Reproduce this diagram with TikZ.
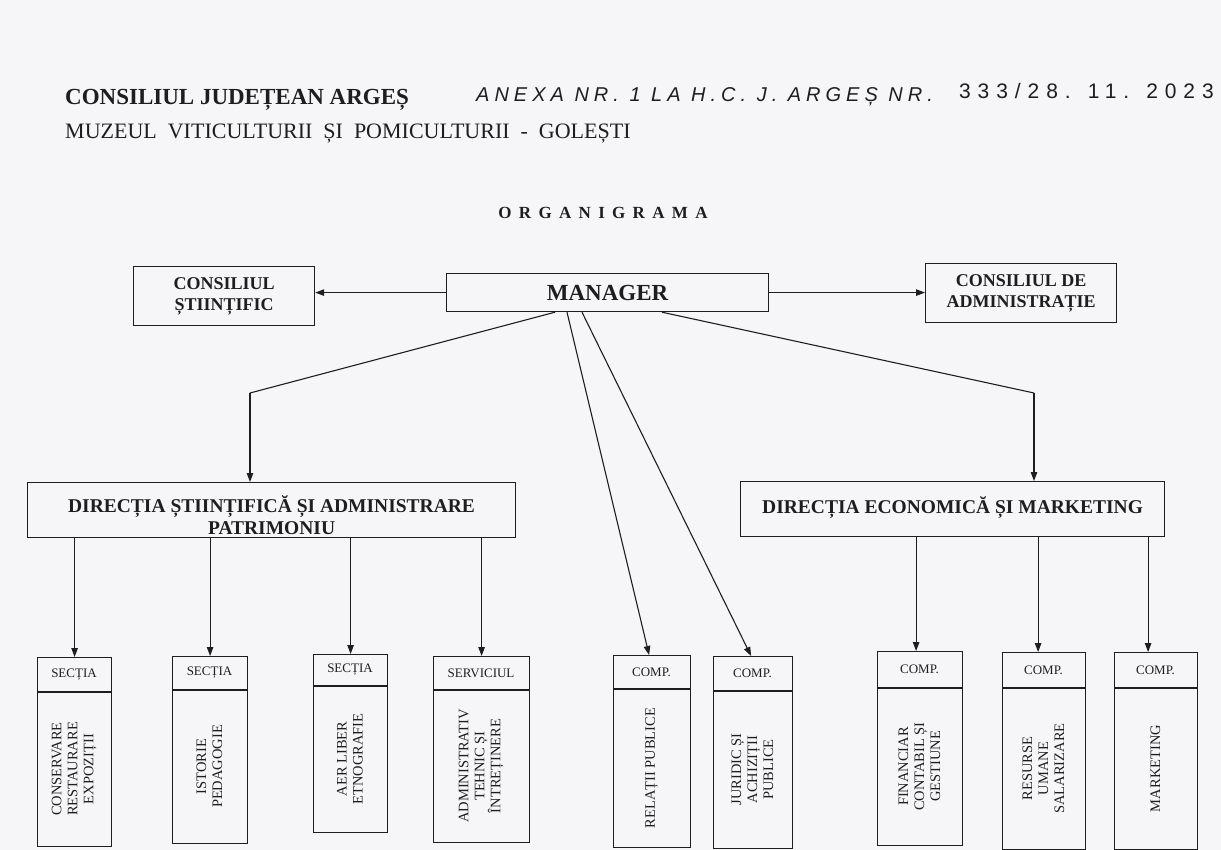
\documentclass[tikz,border=0pt]{standalone}
\usepackage{fontspec}
\setmainfont{Liberation Serif}
\newfontfamily\hand{Liberation Sans}
\usetikzlibrary{arrows.meta,calc}
\definecolor{ink}{RGB}{30,30,32}
\definecolor{paper}{RGB}{246,246,248}
\newcommand{\ubox}[8]{%
  \node[box, anchor=north west, minimum width={(#3-#2)*1pt}, minimum height={(#6-#4)*1pt}] (#1) at (#2,#4) {};
  \coordinate (#1d) at (#2,#5);
  \draw[ln] (#1d) -- (#1d -| #1.east);
  \node[hdr] (#1h) at ({(#2+#3)/2},{(#4+#5)/2}) {#7};
  \node[body] (#1t) at ({(#2+#3)/2},{(#5+#6)/2}) {#8};
}
\tikzset{
  box/.style={draw=ink, line width=1.2pt, inner sep=0pt},
  arr/.style={draw=ink, line width=1.1pt, -{Triangle[length=9pt,width=6.5pt]}},
  ln/.style={draw=ink, line width=1.1pt},
  hdr/.style={font=\fontsize{13}{15}\selectfont, text=ink, inner sep=0pt},
  body/.style={font=\fontsize{14.5}{16}\selectfont, text=ink, align=center, inner sep=0pt, rotate=90},
  topbox/.style={box, align=center, text=ink, font=\bfseries\fontsize{18}{21.5}\selectfont},
  divtext/.style={align=center, text=ink, inner sep=0pt, font=\bfseries\fontsize{19.5}{22}\selectfont},
}
\begin{document}
\begin{tikzpicture}[x=1pt,y=-1pt]
\useasboundingbox (0,0) rectangle (1221,850);
\fill[paper] (0,0) rectangle (1221,850);

% header
\node[anchor=base west, inner sep=0pt, text=ink, font=\bfseries\fontsize{23}{26}\selectfont] (cj) at (65,105) {CONSILIUL JUDEȚEAN ARGEȘ};
\node[anchor=base west, inner sep=0pt, text=ink, font=\fontsize{22}{26}\selectfont] (mz) at (65,139) {MUZEUL\ \ VITICULTURII\ \ ȘI\ \ POMICULTURII\ \ -\ \ GOLEȘTI};
\node[anchor=base west, inner sep=0pt, text=ink, font=\hand\itshape\fontsize{20}{23}\selectfont] (ax) at (476,102) {\addfontfeature{LetterSpace=25}ANEXA NR. 1 LA H.C. J. ARGEȘ NR.};
\node[anchor=base east, inner sep=0pt, text=ink, font=\hand\fontsize{21}{24}\selectfont] (num) at (1214,99) {\addfontfeature{LetterSpace=33}333/28. 11. 2023};
\node[anchor=base, inner sep=0pt, text=ink, font=\bfseries\fontsize{17}{20}\selectfont] (org) at (603,219) {\addfontfeature{LetterSpace=18}O R G A N I G R A M A};

% top row
\node[topbox, anchor=north west, minimum width=181pt, minimum height=59pt] (cs) at (133,266) {CONSILIUL\\ȘTIINȚIFIC};
\node[box, anchor=north west, minimum width=322pt, minimum height=38pt, text=ink, font=\bfseries\fontsize{23}{26}\selectfont] (mgr) at (446,273) {MANAGER};
\node[topbox, anchor=north west, minimum width=191pt, minimum height=59pt] (adm) at (925,263) {CONSILIUL DE\\ADMINISTRAȚIE};
\draw[arr] (mgr.west) -- (mgr.west -| cs.east);
\draw[arr] (mgr.east) -- (mgr.east -| adm.west);

% directions
\node[box, anchor=north west, minimum width=488pt, minimum height=55pt] (divL) at (27,482) {};
\node[divtext] (divLt) at ($(divL.center)+(0,5)$) {DIRECȚIA ȘTIINȚIFICĂ ȘI ADMINISTRARE\\PATRIMONIU};
\node[box, anchor=north west, minimum width=424pt, minimum height=55pt] (divR) at (740,481) {};
\node[divtext] (divRt) at ($(divR.center)+(0,-2)$) {DIRECȚIA ECONOMICĂ ȘI MARKETING};

\coordinate (bL) at (250,393);
\coordinate (bR) at (1034,393);
\draw[ln] ($(mgr.south west)+(109,0)$) -- (bL);
\draw[arr] (bL) -- (bL |- divL.north);
\draw[ln] ($(mgr.south west)+(216,0)$) -- (bR);
\draw[arr] (bR) -- (bR |- divR.north);

% units
\ubox{b1}{37}{111}{657}{692}{846}{SECȚIA}{CONSERVARE\\RESTAURARE\\EXPOZIȚII}
\ubox{b2}{172}{247}{656}{690}{843}{SECȚIA}{ISTORIE\\PEDAGOGIE}
\ubox{b3}{313}{387}{654}{686}{832}{SECȚIA}{AER LIBER\\ETNOGRAFIE}
\ubox{b4}{433}{529}{656}{690}{842}{SERVICIUL}{ADMINISTRATIV\\TEHNIC ȘI\\ÎNTREȚINERE}
\ubox{b5}{613}{690}{655}{689}{847}{COMP.}{RELAȚII PUBLICE}
\ubox{b6}{713}{792}{656}{691}{848}{COMP.}{JURIDIC ȘI\\ACHIZIȚII\\PUBLICE}
\ubox{b7}{877}{962}{651}{688}{845}{COMP.}{FINANCIAR\\CONTABIL ȘI\\GESTIUNE}
\ubox{b8}{1002}{1085}{652}{688}{849}{COMP.}{RESURSE\\UMANE\\SALARIZARE}
\ubox{b9}{1114}{1197}{652}{688}{849}{COMP.}{MARKETING}

\draw[arr] ($(mgr.south west)+(121,0)$) -- ([xshift=-3pt]b5.north);
\draw[arr] ($(mgr.south west)+(136,0)$) -- ([xshift=-2pt]b6.north);

\foreach \b in {b1,b2,b3,b4} \draw[arr] (divL.south -| \b.north) -- (\b.north);
\foreach \b/\s in {b7/-4,b8/-6,b9/-8} \draw[arr] ([xshift=\s pt]\b.north |- divR.south) -- ([xshift=\s pt]\b.north);
\end{tikzpicture}
\end{document}
